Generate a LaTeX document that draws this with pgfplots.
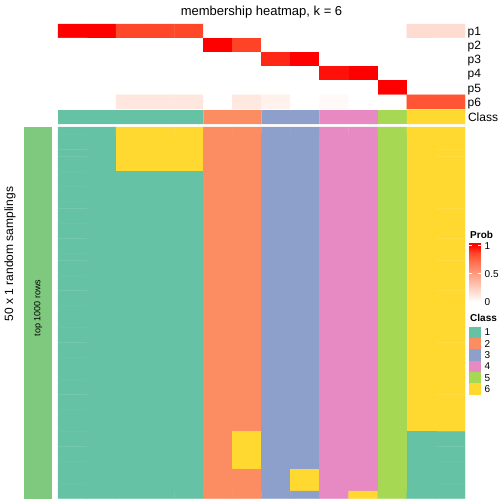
\documentclass[border=0pt]{standalone}
\usepackage{pgfplots}
\pgfplotsset{compat=1.18}
\usepackage{fontspec}
\setmainfont{Liberation Sans}
\definecolor{accentgreen}{RGB}{127,201,127}
\definecolor{cA}{RGB}{102,194,165}
\definecolor{cB}{RGB}{252,141,98}
\definecolor{cC}{RGB}{141,160,203}
\definecolor{cD}{RGB}{231,138,195}
\definecolor{cE}{RGB}{166,216,84}
\definecolor{cF}{RGB}{255,217,47}
\pgfplotsset{
  colormap={classes}{rgb255=(255,255,255) rgb255=(102,194,165) rgb255=(252,141,98) rgb255=(141,160,203) rgb255=(231,138,195) rgb255=(166,216,84) rgb255=(255,217,47)},
  colormap={prob}{rgb255(0pt)=(255,255,255) rgb255(2pt)=(255,207,191) rgb255(4pt)=(255,158,129) rgb255(6pt)=(255,104,70) rgb255(7pt)=(255,70,40) rgb255(8pt)=(255,0,0)},
  hm/.style={scale only axis, hide axis, anchor=north west, enlargelimits=false, clip=false},
  cbar/.style={ybar, bar width=1, bar shift=0pt, draw=none},
}
\newcommand{\fs}[1]{\fontsize{#1bp}{#1bp}\selectfont}
\begin{document}
\begin{tikzpicture}
\path[use as bounding box] (0,0) rectangle (504bp,-504bp);

% membership probabilities p1..p6 (x = sample, y = row, v = probability)
\begin{axis}[hm, at={(58bp,-24bp)}, width=407bp, height=85bp,
  xmin=-0.5, xmax=13.5, ymin=-0.5, ymax=5.5, y dir=reverse,
  colormap name=prob, point meta min=0, point meta max=1]
\addplot[matrix plot*, mesh/cols=14, point meta=explicit] table[header=false, row sep=\\, x index=0, y index=1, meta index=2] {
0 0 1\\1 0 1\\2 0 0.87\\3 0 0.87\\4 0 0.87\\5 0 0\\6 0 0\\7 0 0\\8 0 0\\9 0 0\\10 0 0\\11 0 0\\12 0 0.18\\13 0 0.18\\
0 1 0\\1 1 0\\2 1 0\\3 1 0\\4 1 0\\5 1 1\\6 1 0.88\\7 1 0\\8 1 0\\9 1 0\\10 1 0\\11 1 0\\12 1 0\\13 1 0\\
0 2 0\\1 2 0\\2 2 0\\3 2 0\\4 2 0\\5 2 0\\6 2 0\\7 2 0.93\\8 2 1\\9 2 0\\10 2 0\\11 2 0\\12 2 0\\13 2 0\\
0 3 0\\1 3 0\\2 3 0\\3 3 0\\4 3 0\\5 3 0\\6 3 0\\7 3 0\\8 3 0\\9 3 0.97\\10 3 1\\11 3 0\\12 3 0\\13 3 0\\
0 4 0\\1 4 0\\2 4 0\\3 4 0\\4 4 0\\5 4 0\\6 4 0\\7 4 0\\8 4 0\\9 4 0\\10 4 0\\11 4 1\\12 4 0\\13 4 0\\
0 5 0\\1 5 0\\2 5 0.13\\3 5 0.13\\4 5 0.13\\5 5 0\\6 5 0.12\\7 5 0.07\\8 5 0\\9 5 0.03\\10 5 0\\11 5 0\\12 5 0.82\\13 5 0.82\\
};
\end{axis}

% class annotation
\begin{axis}[hm, at={(58bp,-110bp)}, width=407bp, height=14.17bp,
  xmin=-0.5, xmax=13.5, ymin=0, ymax=1]
\addplot[cbar, fill=cA] coordinates {(0,1) (1,1) (2,1) (3,1) (4,1)};
\addplot[cbar, fill=cB] coordinates {(5,1) (6,1)};
\addplot[cbar, fill=cC] coordinates {(7,1) (8,1)};
\addplot[cbar, fill=cD] coordinates {(9,1) (10,1)};
\addplot[cbar, fill=cE] coordinates {(11,1)};
\addplot[cbar, fill=cF] coordinates {(12,1) (13,1)};
\end{axis}

% main heatmap: 50 samplings (y) x 14 samples (x), value = class
\begin{axis}[hm, at={(58bp,-127bp)}, width=407bp, height=371.5bp,
  xmin=-0.5, xmax=13.5, ymin=-0.5, ymax=49.5, y dir=reverse,
  colormap name=classes, colormap access=direct]
\addplot[matrix plot*, mesh/cols=14, point meta=explicit] table[header=false, row sep=\\, x index=0, y index=1, meta index=2] {
0 0 1\\1 0 1\\2 0 6\\3 0 6\\4 0 6\\5 0 2\\6 0 2\\7 0 3\\8 0 3\\9 0 4\\10 0 4\\11 0 5\\12 0 6\\13 0 6\\
0 1 1\\1 1 1\\2 1 6\\3 1 6\\4 1 6\\5 1 2\\6 1 2\\7 1 3\\8 1 3\\9 1 4\\10 1 4\\11 1 5\\12 1 6\\13 1 6\\
0 2 1\\1 2 1\\2 2 6\\3 2 6\\4 2 6\\5 2 2\\6 2 2\\7 2 3\\8 2 3\\9 2 4\\10 2 4\\11 2 5\\12 2 6\\13 2 6\\
0 3 1\\1 3 1\\2 3 6\\3 3 6\\4 3 6\\5 3 2\\6 3 2\\7 3 3\\8 3 3\\9 3 4\\10 3 4\\11 3 5\\12 3 6\\13 3 6\\
0 4 1\\1 4 1\\2 4 6\\3 4 6\\4 4 6\\5 4 2\\6 4 2\\7 4 3\\8 4 3\\9 4 4\\10 4 4\\11 4 5\\12 4 6\\13 4 6\\
0 5 1\\1 5 1\\2 5 6\\3 5 6\\4 5 6\\5 5 2\\6 5 2\\7 5 3\\8 5 3\\9 5 4\\10 5 4\\11 5 5\\12 5 6\\13 5 6\\
0 6 1\\1 6 1\\2 6 1\\3 6 1\\4 6 1\\5 6 2\\6 6 2\\7 6 3\\8 6 3\\9 6 4\\10 6 4\\11 6 5\\12 6 6\\13 6 6\\
0 7 1\\1 7 1\\2 7 1\\3 7 1\\4 7 1\\5 7 2\\6 7 2\\7 7 3\\8 7 3\\9 7 4\\10 7 4\\11 7 5\\12 7 6\\13 7 6\\
0 8 1\\1 8 1\\2 8 1\\3 8 1\\4 8 1\\5 8 2\\6 8 2\\7 8 3\\8 8 3\\9 8 4\\10 8 4\\11 8 5\\12 8 6\\13 8 6\\
0 9 1\\1 9 1\\2 9 1\\3 9 1\\4 9 1\\5 9 2\\6 9 2\\7 9 3\\8 9 3\\9 9 4\\10 9 4\\11 9 5\\12 9 6\\13 9 6\\
0 10 1\\1 10 1\\2 10 1\\3 10 1\\4 10 1\\5 10 2\\6 10 2\\7 10 3\\8 10 3\\9 10 4\\10 10 4\\11 10 5\\12 10 6\\13 10 6\\
0 11 1\\1 11 1\\2 11 1\\3 11 1\\4 11 1\\5 11 2\\6 11 2\\7 11 3\\8 11 3\\9 11 4\\10 11 4\\11 11 5\\12 11 6\\13 11 6\\
0 12 1\\1 12 1\\2 12 1\\3 12 1\\4 12 1\\5 12 2\\6 12 2\\7 12 3\\8 12 3\\9 12 4\\10 12 4\\11 12 5\\12 12 6\\13 12 6\\
0 13 1\\1 13 1\\2 13 1\\3 13 1\\4 13 1\\5 13 2\\6 13 2\\7 13 3\\8 13 3\\9 13 4\\10 13 4\\11 13 5\\12 13 6\\13 13 6\\
0 14 1\\1 14 1\\2 14 1\\3 14 1\\4 14 1\\5 14 2\\6 14 2\\7 14 3\\8 14 3\\9 14 4\\10 14 4\\11 14 5\\12 14 6\\13 14 6\\
0 15 1\\1 15 1\\2 15 1\\3 15 1\\4 15 1\\5 15 2\\6 15 2\\7 15 3\\8 15 3\\9 15 4\\10 15 4\\11 15 5\\12 15 6\\13 15 6\\
0 16 1\\1 16 1\\2 16 1\\3 16 1\\4 16 1\\5 16 2\\6 16 2\\7 16 3\\8 16 3\\9 16 4\\10 16 4\\11 16 5\\12 16 6\\13 16 6\\
0 17 1\\1 17 1\\2 17 1\\3 17 1\\4 17 1\\5 17 2\\6 17 2\\7 17 3\\8 17 3\\9 17 4\\10 17 4\\11 17 5\\12 17 6\\13 17 6\\
0 18 1\\1 18 1\\2 18 1\\3 18 1\\4 18 1\\5 18 2\\6 18 2\\7 18 3\\8 18 3\\9 18 4\\10 18 4\\11 18 5\\12 18 6\\13 18 6\\
0 19 1\\1 19 1\\2 19 1\\3 19 1\\4 19 1\\5 19 2\\6 19 2\\7 19 3\\8 19 3\\9 19 4\\10 19 4\\11 19 5\\12 19 6\\13 19 6\\
0 20 1\\1 20 1\\2 20 1\\3 20 1\\4 20 1\\5 20 2\\6 20 2\\7 20 3\\8 20 3\\9 20 4\\10 20 4\\11 20 5\\12 20 6\\13 20 6\\
0 21 1\\1 21 1\\2 21 1\\3 21 1\\4 21 1\\5 21 2\\6 21 2\\7 21 3\\8 21 3\\9 21 4\\10 21 4\\11 21 5\\12 21 6\\13 21 6\\
0 22 1\\1 22 1\\2 22 1\\3 22 1\\4 22 1\\5 22 2\\6 22 2\\7 22 3\\8 22 3\\9 22 4\\10 22 4\\11 22 5\\12 22 6\\13 22 6\\
0 23 1\\1 23 1\\2 23 1\\3 23 1\\4 23 1\\5 23 2\\6 23 2\\7 23 3\\8 23 3\\9 23 4\\10 23 4\\11 23 5\\12 23 6\\13 23 6\\
0 24 1\\1 24 1\\2 24 1\\3 24 1\\4 24 1\\5 24 2\\6 24 2\\7 24 3\\8 24 3\\9 24 4\\10 24 4\\11 24 5\\12 24 6\\13 24 6\\
0 25 1\\1 25 1\\2 25 1\\3 25 1\\4 25 1\\5 25 2\\6 25 2\\7 25 3\\8 25 3\\9 25 4\\10 25 4\\11 25 5\\12 25 6\\13 25 6\\
0 26 1\\1 26 1\\2 26 1\\3 26 1\\4 26 1\\5 26 2\\6 26 2\\7 26 3\\8 26 3\\9 26 4\\10 26 4\\11 26 5\\12 26 6\\13 26 6\\
0 27 1\\1 27 1\\2 27 1\\3 27 1\\4 27 1\\5 27 2\\6 27 2\\7 27 3\\8 27 3\\9 27 4\\10 27 4\\11 27 5\\12 27 6\\13 27 6\\
0 28 1\\1 28 1\\2 28 1\\3 28 1\\4 28 1\\5 28 2\\6 28 2\\7 28 3\\8 28 3\\9 28 4\\10 28 4\\11 28 5\\12 28 6\\13 28 6\\
0 29 1\\1 29 1\\2 29 1\\3 29 1\\4 29 1\\5 29 2\\6 29 2\\7 29 3\\8 29 3\\9 29 4\\10 29 4\\11 29 5\\12 29 6\\13 29 6\\
0 30 1\\1 30 1\\2 30 1\\3 30 1\\4 30 1\\5 30 2\\6 30 2\\7 30 3\\8 30 3\\9 30 4\\10 30 4\\11 30 5\\12 30 6\\13 30 6\\
0 31 1\\1 31 1\\2 31 1\\3 31 1\\4 31 1\\5 31 2\\6 31 2\\7 31 3\\8 31 3\\9 31 4\\10 31 4\\11 31 5\\12 31 6\\13 31 6\\
0 32 1\\1 32 1\\2 32 1\\3 32 1\\4 32 1\\5 32 2\\6 32 2\\7 32 3\\8 32 3\\9 32 4\\10 32 4\\11 32 5\\12 32 6\\13 32 6\\
0 33 1\\1 33 1\\2 33 1\\3 33 1\\4 33 1\\5 33 2\\6 33 2\\7 33 3\\8 33 3\\9 33 4\\10 33 4\\11 33 5\\12 33 6\\13 33 6\\
0 34 1\\1 34 1\\2 34 1\\3 34 1\\4 34 1\\5 34 2\\6 34 2\\7 34 3\\8 34 3\\9 34 4\\10 34 4\\11 34 5\\12 34 6\\13 34 6\\
0 35 1\\1 35 1\\2 35 1\\3 35 1\\4 35 1\\5 35 2\\6 35 2\\7 35 3\\8 35 3\\9 35 4\\10 35 4\\11 35 5\\12 35 6\\13 35 6\\
0 36 1\\1 36 1\\2 36 1\\3 36 1\\4 36 1\\5 36 2\\6 36 2\\7 36 3\\8 36 3\\9 36 4\\10 36 4\\11 36 5\\12 36 6\\13 36 6\\
0 37 1\\1 37 1\\2 37 1\\3 37 1\\4 37 1\\5 37 2\\6 37 2\\7 37 3\\8 37 3\\9 37 4\\10 37 4\\11 37 5\\12 37 6\\13 37 6\\
0 38 1\\1 38 1\\2 38 1\\3 38 1\\4 38 1\\5 38 2\\6 38 2\\7 38 3\\8 38 3\\9 38 4\\10 38 4\\11 38 5\\12 38 6\\13 38 6\\
0 39 1\\1 39 1\\2 39 1\\3 39 1\\4 39 1\\5 39 2\\6 39 2\\7 39 3\\8 39 3\\9 39 4\\10 39 4\\11 39 5\\12 39 6\\13 39 6\\
0 40 1\\1 40 1\\2 40 1\\3 40 1\\4 40 1\\5 40 2\\6 40 2\\7 40 3\\8 40 3\\9 40 4\\10 40 4\\11 40 5\\12 40 6\\13 40 6\\
0 41 1\\1 41 1\\2 41 1\\3 41 1\\4 41 1\\5 41 2\\6 41 6\\7 41 3\\8 41 3\\9 41 4\\10 41 4\\11 41 5\\12 41 1\\13 41 1\\
0 42 1\\1 42 1\\2 42 1\\3 42 1\\4 42 1\\5 42 2\\6 42 6\\7 42 3\\8 42 3\\9 42 4\\10 42 4\\11 42 5\\12 42 1\\13 42 1\\
0 43 1\\1 43 1\\2 43 1\\3 43 1\\4 43 1\\5 43 2\\6 43 6\\7 43 3\\8 43 3\\9 43 4\\10 43 4\\11 43 5\\12 43 1\\13 43 1\\
0 44 1\\1 44 1\\2 44 1\\3 44 1\\4 44 1\\5 44 2\\6 44 6\\7 44 3\\8 44 3\\9 44 4\\10 44 4\\11 44 5\\12 44 1\\13 44 1\\
0 45 1\\1 45 1\\2 45 1\\3 45 1\\4 45 1\\5 45 2\\6 45 6\\7 45 3\\8 45 3\\9 45 4\\10 45 4\\11 45 5\\12 45 1\\13 45 1\\
0 46 1\\1 46 1\\2 46 1\\3 46 1\\4 46 1\\5 46 2\\6 46 2\\7 46 3\\8 46 6\\9 46 4\\10 46 4\\11 46 5\\12 46 1\\13 46 1\\
0 47 1\\1 47 1\\2 47 1\\3 47 1\\4 47 1\\5 47 2\\6 47 2\\7 47 3\\8 47 6\\9 47 4\\10 47 4\\11 47 5\\12 47 1\\13 47 1\\
0 48 1\\1 48 1\\2 48 1\\3 48 1\\4 48 1\\5 48 2\\6 48 2\\7 48 3\\8 48 6\\9 48 4\\10 48 4\\11 48 5\\12 48 1\\13 48 1\\
0 49 1\\1 49 1\\2 49 1\\3 49 1\\4 49 1\\5 49 2\\6 49 2\\7 49 3\\8 49 3\\9 49 4\\10 49 6\\11 49 5\\12 49 1\\13 49 1\\
};
\end{axis}

% left annotation bar
\begin{axis}[hm, at={(24bp,-127bp)}, width=28.35bp, height=371.5bp,
  xmin=-0.5, xmax=0.5, ymin=0, ymax=1]
\addplot[cbar, fill=accentgreen] coordinates {(0,1)};
\node[rotate=90, font=\fs{9}] at (axis cs:0,0.513) {top 1000 rows};
\end{axis}

% Prob legend colour bar
\begin{axis}[hm, at={(469.3bp,-243.2bp)}, width=11.34bp, height=58.8bp,
  xmin=0, xmax=1, ymin=0, ymax=1.04, colormap name=prob,
  point meta min=0, point meta max=1]
\addplot[patch, patch type=rectangle, shader=interp, point meta=explicit] coordinates {
(0,0) [0] (1,0) [0] (1,0.25) [0.25] (0,0.25) [0.25]
(0,0.25) [0.25] (1,0.25) [0.25] (1,0.5) [0.5] (0,0.5) [0.5]
(0,0.5) [0.5] (1,0.5) [0.5] (1,0.75) [0.75] (0,0.75) [0.75]
(0,0.75) [0.75] (1,0.75) [0.75] (1,0.875) [0.875] (0,0.875) [0.875]
(0,0.875) [0.875] (1,0.875) [0.875] (1,1) [1] (0,1) [1]
(0,1) [1] (1,1) [1] (1,1.04) [1] (0,1.04) [1]
};
\addplot[white, line width=0.7bp] coordinates {(0,0.5) (0.25,0.5)};
\addplot[white, line width=0.7bp] coordinates {(0.75,0.5) (1,0.5)};
\addplot[white, line width=0.7bp] coordinates {(0,1) (0.25,1)};
\addplot[white, line width=0.7bp] coordinates {(0.75,1) (1,1)};
\end{axis}

% Class legend keys
\begin{axis}[hm, at={(469.3bp,-326.5bp)}, width=11.34bp, height=68.04bp,
  xmin=0, xmax=1, ymin=0, ymax=6, y dir=reverse]
\addplot[xbar, bar width=1, bar shift=0pt, draw=none, fill=cA] coordinates {(1,0.5)};
\addplot[xbar, bar width=1, bar shift=0pt, draw=none, fill=cB] coordinates {(1,1.5)};
\addplot[xbar, bar width=1, bar shift=0pt, draw=none, fill=cC] coordinates {(1,2.5)};
\addplot[xbar, bar width=1, bar shift=0pt, draw=none, fill=cD] coordinates {(1,3.5)};
\addplot[xbar, bar width=1, bar shift=0pt, draw=none, fill=cE] coordinates {(1,4.5)};
\addplot[xbar, bar width=1, bar shift=0pt, draw=none, fill=cF] coordinates {(1,5.5)};
\end{axis}

% texts
\node[anchor=base, inner sep=0, font=\fs{13}] at (261.5bp,-15.3bp) {membership heatmap, k = 6};
\begin{scope}[every node/.style={anchor=base west, inner sep=0, font=\fs{12}}]
\node at (467.5bp,-35.4bp) {p1};
\node at (467.5bp,-49.6bp) {p2};
\node at (467.5bp,-63.7bp) {p3};
\node at (467.5bp,-77.9bp) {p4};
\node at (467.5bp,-92.1bp) {p5};
\node at (467.5bp,-106.2bp) {p6};
\node at (467.8bp,-121.4bp) {Class};
\end{scope}
\node[rotate=90, inner sep=0, font=\fs{12}] at (10bp,-254bp) {50 x 1 random samplings};
\node[anchor=base west, inner sep=0, font=\fs{10}\bfseries] at (470bp,-238.5bp) {Prob};
\node[anchor=base west, inner sep=0, font=\fs{10}\bfseries] at (470bp,-321.5bp) {Class};
\begin{scope}[every node/.style={anchor=base west, inner sep=0, font=\fs{10}}]
\node at (484.5bp,-249.1bp) {1};
\node at (484.5bp,-277.6bp) {0.5};
\node at (484.5bp,-305.6bp) {0};
\node at (484.5bp,-335.8bp) {1};
\node at (484.5bp,-347.1bp) {2};
\node at (484.5bp,-358.5bp) {3};
\node at (484.5bp,-369.8bp) {4};
\node at (484.5bp,-381.2bp) {5};
\node at (484.5bp,-392.5bp) {6};
\end{scope}
\end{tikzpicture}
\end{document}
